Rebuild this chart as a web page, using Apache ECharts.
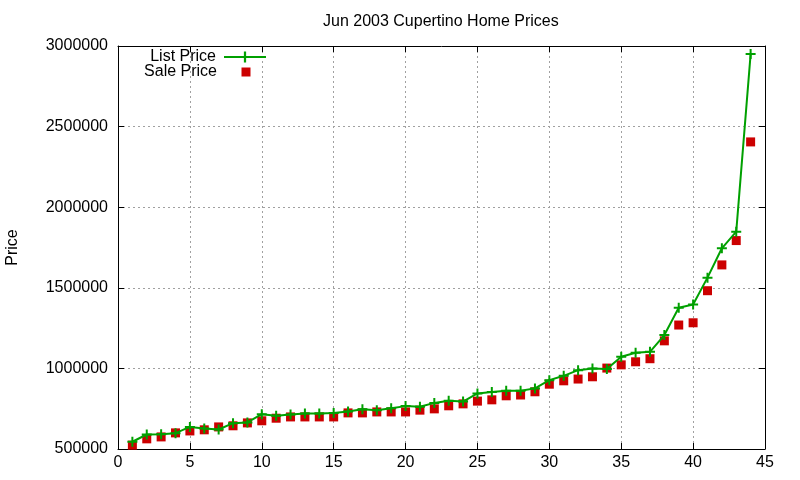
<!DOCTYPE html>
<html>
<head>
<meta charset="utf-8">
<script src="https://cdn.jsdelivr.net/npm/echarts@6/dist/echarts.min.js"></script>
<style>
    html, body { margin: 0; padding: 0; background: #fff; }
    #chart { width: 800px; height: 480px; }
</style>
</head>
<body>
<div id="chart"></div>
<script>
const homeIndex = [1, 2, 3, 4, 5, 6, 7, 8, 9, 10, 11, 12, 13, 14, 15, 16, 17, 18, 19, 20, 21, 22,
    23, 24, 25, 26, 27, 28, 29, 30, 31, 32, 33, 34, 35, 36, 37, 38, 39, 40, 41, 42, 43, 44];

const listPrice = [545000, 590000, 592000, 598000, 637000, 627000, 621000, 660000, 665000, 716000,
    706000, 714000, 720000, 720000, 724000, 733000, 747000, 741000, 753000, 766000, 762000, 786000,
    800000, 794000, 845000, 853000, 861000, 861000, 876000, 927000, 954000, 989000, 1000000, 996000,
    1072000, 1097000, 1103000, 1207000, 1376000, 1397000, 1563000, 1745000, 1848000, 2950000];

const salePrice = [524000, 563000, 575000, 600000, 612000, 619000, 637000, 644000, 662000, 675000,
    691000, 699000, 699000, 699000, 699000, 724000, 724000, 730000, 730000, 730000, 741000, 749000,
    768000, 780000, 797000, 805000, 830000, 835000, 855000, 902000, 923000, 934000, 948000, 1002000,
    1022000, 1041000, 1060000, 1171000, 1269000, 1283000, 1482000, 1642000, 1793000, 2405000];

const FONT = 'Liberation Sans';
const PLUS = 'path://M4,0H6V4H10V6H6V10H4V6H0V4H4Z';
const SQUARE = 'path://M0,0H10V10H0Z';

const myChart = echarts.init(document.getElementById('chart'));

const gridLine = {
    show: true,
    lineStyle: { color: '#a0a0a0', width: 1, type: [2, 3] }
};

// gnuplot style: ticks on all four sides, pointing inwards
const tickIn = { show: true, inside: true, length: 6, lineStyle: { color: '#000' } };
const frameLine = { show: true, onZero: false, lineStyle: { color: '#000', width: 1 } };

const option = {
    animation: false,
    textStyle: { fontFamily: FONT },
    title: {
        text: 'Jun 2003 Cupertino Home Prices',
        left: 318,
        top: 9,
        textStyle: { fontFamily: FONT, fontSize: 16, fontWeight: 'normal', color: '#000' }
    },
    legend: [
        {
            data: ['List Price'],
            right: 533,
            top: 49,
            padding: 0,
            align: 'right',
            itemWidth: 42,
            itemHeight: 14,
            selectedMode: false,
            textStyle: { fontFamily: FONT, fontSize: 16, color: '#000', padding: [0, 3, 0, 0] }
        },
        {
            data: [{ name: 'Sale Price', icon: SQUARE }],
            right: 549.5,
            top: 64,
            padding: 0,
            align: 'right',
            itemWidth: 9,
            itemHeight: 9,
            selectedMode: false,
            textStyle: { fontFamily: FONT, fontSize: 16, color: '#000', padding: [0, 19.5, 0, 0] }
        }
    ],
    grid: { left: 118, right: 35, top: 46, bottom: 31, outerBoundsMode: 'none', containLabel: false },
    xAxis: [
        {
            type: 'value',
            min: 0,
            max: 45,
            interval: 5,
            axisLine: frameLine,
            axisTick: tickIn,
            axisLabel: { fontFamily: FONT, fontSize: 16, color: '#000', margin: 6 },
            splitLine: gridLine
        },
        {
            type: 'value',
            position: 'top',
            min: 0,
            max: 45,
            interval: 5,
            axisLine: frameLine,
            axisTick: tickIn,
            axisLabel: { show: false },
            splitLine: { show: false }
        }
    ],
    yAxis: [
        {
            type: 'value',
            min: 500000,
            max: 3000000,
            interval: 500000,
            name: 'Price',
            nameLocation: 'middle',
            nameRotate: 90,
            nameGap: 97,
            nameTextStyle: { fontFamily: FONT, fontSize: 16, color: '#000' },
            axisLine: frameLine,
            axisTick: tickIn,
            axisLabel: {
                fontFamily: FONT,
                fontSize: 16,
                color: '#000',
                margin: 10,
                formatter: (value) => String(value)
            },
            splitLine: gridLine
        },
        {
            type: 'value',
            position: 'right',
            min: 500000,
            max: 3000000,
            interval: 500000,
            axisLine: frameLine,
            axisTick: tickIn,
            axisLabel: { show: false },
            splitLine: { show: false }
        }
    ],
    series: [
        {
            name: 'List Price',
            type: 'line',
            data: homeIndex.map((x, i) => [x, listPrice[i]]),
            color: '#00a000',
            symbol: PLUS,
            symbolSize: 10,
            showAllSymbol: true,
            lineStyle: { width: 2, color: '#00a000' },
            itemStyle: { color: '#00a000' }
        },
        {
            name: 'Sale Price',
            type: 'scatter',
            data: homeIndex.map((x, i) => [x, salePrice[i]]),
            color: '#cc0000',
            symbol: 'rect',
            symbolSize: 9,
            itemStyle: { color: '#cc0000', opacity: 1 }
        }
    ]
};

myChart.setOption(option);
</script>
</body>
</html>
